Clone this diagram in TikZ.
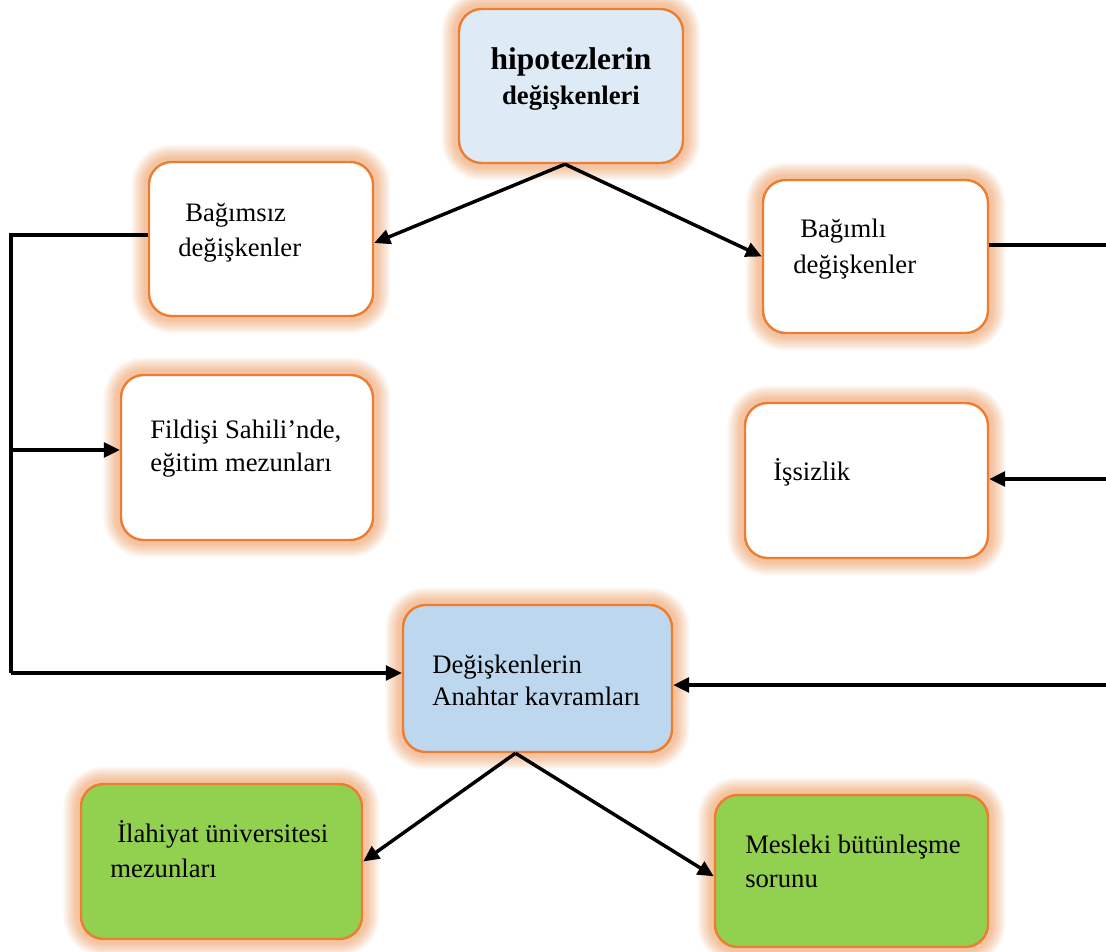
\documentclass[tikz,border=0pt]{standalone}
\usepackage{fontspec}
\setmainfont{Liberation Serif}
\usetikzlibrary{arrows.meta,fit}

\definecolor{edge}{HTML}{ED7D31}
\definecolor{halo}{HTML}{F4B183}
\definecolor{paleblue}{HTML}{DEEBF7}
\definecolor{midblue}{HTML}{BDD7EE}
\definecolor{leaf}{HTML}{92D050}

\tikzset{
  box/.style={draw=edge, line width=1.8pt, rounded corners=17pt, inner sep=0pt, fill=white,
    preaction={draw=halo, line width=26pt, draw opacity=0.10},
    preaction={draw=halo, line width=23pt, draw opacity=0.13},
    preaction={draw=halo, line width=20pt, draw opacity=0.15},
    preaction={draw=halo, line width=17pt, draw opacity=0.17},
    preaction={draw=halo, line width=14pt, draw opacity=0.19},
    preaction={draw=halo, line width=11pt, draw opacity=0.21},
    preaction={draw=halo, line width=8pt, draw opacity=0.23}},
  txt/.style={inner sep=0pt, font=\fontsize{20}{24}\selectfont, anchor=base west},
  headtxt/.style={inner sep=0pt, anchor=base, font=\bfseries\fontsize{#1}{#1}\selectfont},
  link/.style={line width=2.6pt, black},
  arr/.style={link, -{Triangle[length=12pt,width=11pt]}},
}

\begin{document}
\begin{tikzpicture}[x=0.75pt, y=-0.75pt]
  \fill[white] (0,0) rectangle (1106,952);
  \useasboundingbox (0,0) rectangle (1106,952);

  % boxes
  \node[box, fill=paleblue, fit={(459,9) (683,163)}] (hyp) {};
  \node[box, fit={(149,162) (373,316)}] (bsz) {};
  \node[box, fit={(763,180) (988,333)}] (bml) {};
  \node[box, fit={(121,375) (373,540)}] (fld) {};
  \node[box, fit={(745,403) (988,558)}] (iss) {};
  \node[box, fill=midblue, fit={(403,605) (672,752)}] (dgk) {};
  \node[box, fill=leaf, fit={(81,784) (362,939)}] (ila) {};
  \node[box, fill=leaf, fit={(715,795) (988,947)}] (mes) {};

  % texts
  \node[headtxt=23.6] (hypA) at (571,70) {hipotezlerin};
  \node[headtxt=20] (hypB) at (571,105) {değişkenleri};
  \node[txt] (bszA) at (185,222) {Bağımsız};
  \node[txt] (bszB) at (178,257) {değişkenler};
  \node[txt] (bmlA) at (800,238) {Bağımlı};
  \node[txt] (bmlB) at (793,273) {değişkenler};
  \node[txt] (fldA) at (150,438) {Fildişi Sahili’nde,};
  \node[txt] (fldB) at (150,471) {eğitim mezunları};
  \node[txt] (issA) at (773,480) {İşsizlik};
  \node[txt] (dgkA) at (432,673) {Değişkenlerin};
  \node[txt] (dgkB) at (432,705) {Anahtar kavramları};
  \node[txt] (ilaA) at (117,842) {İlahiyat üniversitesi};
  \node[txt] (ilaB) at (110,877) {mezunları};
  \node[txt] (mesA) at (745,853) {Mesleki bütünleşme};
  \node[txt] (mesB) at (745,887) {sorunu};

  % rail and branch points
  \coordinate (railTop) at (11,235);
  \coordinate (railMid) at (11,450);
  \coordinate (railBot) at (11,673);
  \coordinate (edgeA) at (1106,245);
  \coordinate (edgeB) at (1106,479);
  \coordinate (edgeC) at (1106,685);
  \coordinate (hypTip) at ([xshift=-4.5pt]hyp.south);
  \coordinate (dgkTip) at ([xshift=-16.5pt]dgk.south);

  % connectors
  \draw[arr] (hypTip) -- ([yshift=-3pt]bsz.east);
  \draw[arr] (hypTip) -- (bml.west);
  \draw[link] (bsz.west |- railTop) -- (railTop) -- (railBot);
  \draw[arr] (railMid) -- (railMid -| fld.west);
  \draw[arr] (railBot) -- (railBot -| dgk.west);
  \draw[link] (bml.east |- edgeA) -- (edgeA);
  \draw[arr] (edgeB) -- (edgeB -| iss.east);
  \draw[arr] (edgeC) -- (edgeC -| dgk.east);
  \draw[arr] (dgkTip) -- (ila.east);
  \draw[arr] (dgkTip) -- ([yshift=-4pt]mes.west);
\end{tikzpicture}
\end{document}
